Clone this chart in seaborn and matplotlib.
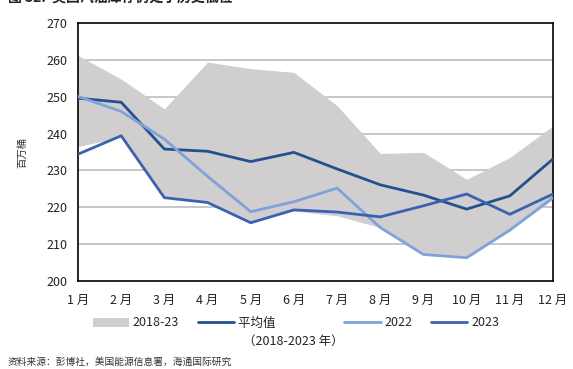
# 美国汽油库存仍处于历史低位
import numpy as np
import pandas as pd
import matplotlib
matplotlib.use("Agg")
import matplotlib.pyplot as plt
import seaborn as sns
from matplotlib.patches import Patch
from matplotlib.lines import Line2D

# data (million barrels)
months = ["1 月", "2 月", "3 月", "4 月", "5 月", "6 月", "7 月", "8 月", "9 月", "10 月", "11 月", "12 月"]
band_high = [261.2, 254.8, 246.7, 259.4, 257.6, 256.6, 247.6, 234.6, 234.9, 227.6, 233.5, 242.1]
band_low = [236.5, 239.0, 222.6, 221.7, 215.8, 219.0, 217.7, 214.5, 207.5, 206.3, 213.6, 222.2]
avg_2018_23 = [249.6, 248.5, 235.8, 235.2, 232.4, 234.9, 230.4, 226.1, 223.3, 219.5, 223.1, 233.1]
y2022 = [250.1, 246.0, 238.5, 228.4, 218.8, 221.5, 225.2, 214.5, 207.2, 206.3, 213.8, 222.6]
y2023 = [234.4, 239.4, 222.6, 221.3, 215.8, 219.3, 218.7, 217.4, 220.4, 223.6, 218.1, 223.6]

c_band = "#D0CECF"
c_avg = "#24508E"
c_2022 = "#7FA2DA"
c_2023 = "#3B62B0"

sns.set_style("white")
plt.rcParams["font.family"] = ["Noto Sans CJK SC", "DejaVu Sans"]

df = pd.DataFrame({"x": np.arange(len(months)), "avg": avg_2018_23,
                   "y2022": y2022, "y2023": y2023})

fig = plt.figure(figsize=(5.73, 3.69), dpi=100)
ax = fig.add_axes([78 / 573, 1 - 281 / 369, 475 / 573, 258 / 369])

ax.fill_between(df["x"], band_low, band_high, color=c_band, lw=0, zorder=1)
sns.lineplot(data=df, x="x", y="avg", ax=ax, color=c_avg, lw=2, zorder=3)
sns.lineplot(data=df, x="x", y="y2022", ax=ax, color=c_2022, lw=2, zorder=3)
sns.lineplot(data=df, x="x", y="y2023", ax=ax, color=c_2023, lw=2, zorder=4)

ax.set_xlim(0, len(months) - 1)
ax.set_ylim(200, 270)
ax.set_yticks(range(200, 271, 10))
ax.set_xticks(df["x"])
ax.set_xticklabels(months)
ax.set_xlabel("")
ax.set_ylabel("百万桶", fontsize=7.5, labelpad=14, color="#333333")
for y in range(210, 270, 10):
    ax.axhline(y, color="#BDBDBD", lw=1.2, zorder=0)
for s in ax.spines.values():
    s.set_color("black")
    s.set_linewidth(1.2)
ax.tick_params(axis="both", direction="out", length=4, width=1.2, color="black",
               labelsize=9, labelcolor="#222222")
ax.tick_params(axis="x", pad=5)

handles = [Patch(facecolor=c_band, edgecolor="none"),
           Line2D([], [], color=c_avg, lw=2),
           Line2D([], [], color=c_2022, lw=2),
           Line2D([], [], color=c_2023, lw=2)]
labels = ["2018-23", "平均值\u3000\u3000\u3000\u3000", "2022", "2023"]
fig.legend(handles, labels, ncol=4, loc="center", bbox_to_anchor=(296 / 573, 1 - 323 / 369),
           frameon=False, fontsize=9, handlelength=2.9, handletextpad=0.3,
           columnspacing=1.5)
fig.text(293 / 573, 1 - 341 / 369, "（2018-2023 年）", fontsize=9, ha="center", va="center",
         color="#222222")

fig.text(8 / 573, 1 - 362 / 369, "资料来源：彭博社，美国能源信息署，海通国际研究",
         fontsize=7, ha="left", va="center", color="#333333")
fig.text(8 / 573, 1 + 2 / 369, "图 32:  美国汽油库存仍处于历史低位", fontsize=10,
         fontweight="bold", ha="left", va="center", color="#222222")

fig.savefig("out.png", dpi=100)
